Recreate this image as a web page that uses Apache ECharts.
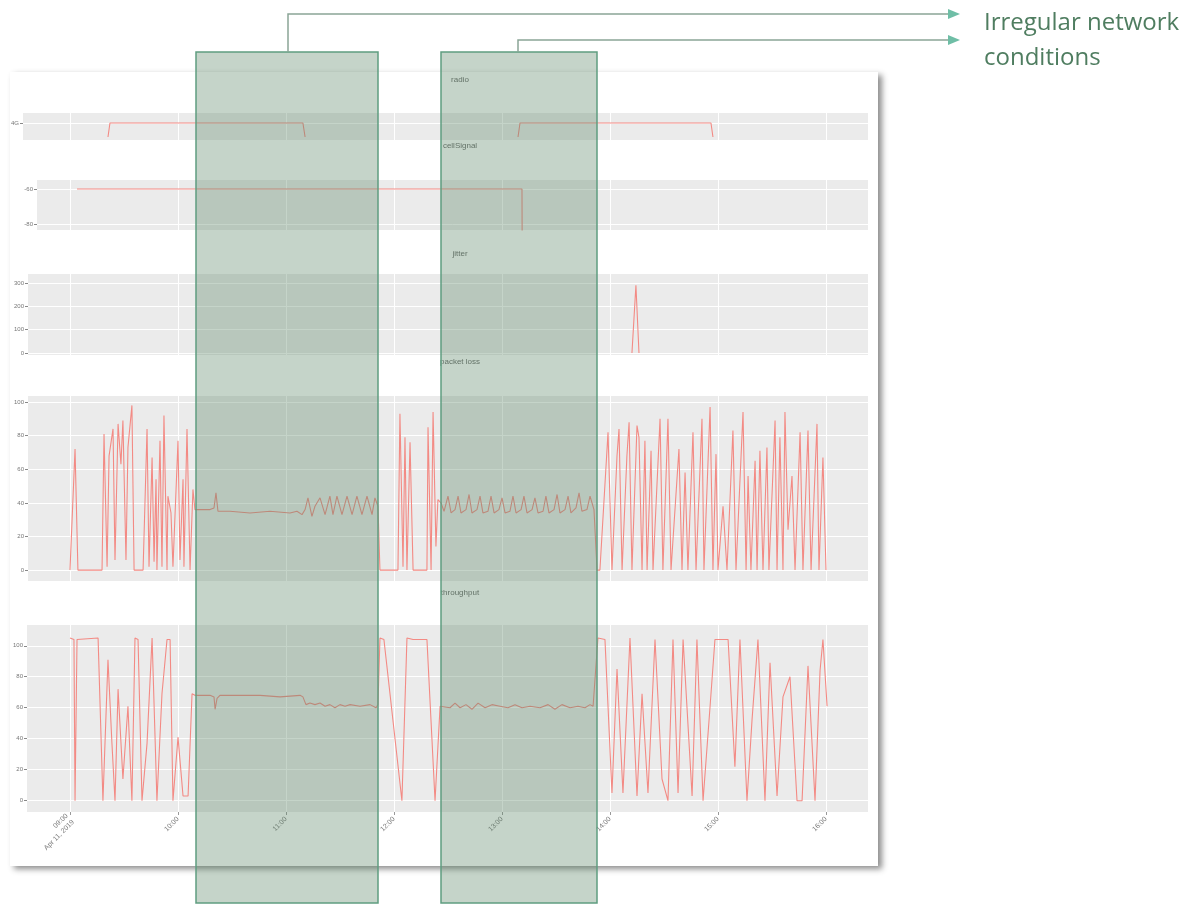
<!DOCTYPE html>
<html>
<head>
<meta charset="utf-8">
<script src="https://cdn.jsdelivr.net/npm/echarts@6/dist/echarts.min.js"></script>
<style>
  html, body { margin: 0; padding: 0; background: #ffffff; }
  #chart { width: 1192px; height: 905px; }
</style>
</head>
<body>
<div id="chart"></div>
<script>
// ---- data (time in minutes from the first sample) ----
const timeTicks = [0, 60, 120, 180, 240, 300, 360, 420];
const timeTickLabels = ['09:00\nApr 11, 2019', '10:00', '11:00', '12:00', '13:00', '14:00', '15:00', '16:00'];

// radio technology (1 = 4G), gaps where no record exists
const radioTime  = [21.1, 22.2, 129.4, 130.6, 131, 248.9, 250.0, 356.1, 357.2];
const radioValue = [0, 1, 1, 0, null, 0, 1, 1, 0];

// cell signal (dBm)
const cellTime  = [3.9, 251.1, 251.2];
const cellValue = [-60, -60, -90];

// jitter (ms)
const jitterTime  = [312.2, 314.4, 316.1];
const jitterValue = [0, 290, 0];

// packet loss (%)
const lossTime = [
  0, 2.8, 4.4, 17.8, 18.9, 20.6, 21.7, 23.9, 25.0, 26.7, 28.3, 29.4, 31.1, 32.2, 34.4, 35.6,
  40.6, 42.8, 43.9, 45.6, 46.7, 47.8, 48.3, 50.0, 51.1, 52.2, 53.9, 54.4, 56.1, 57.2, 60.0,
  61.1, 62.8, 63.3, 65.0, 66.7, 68.3, 69.4, 72.2, 77.8, 80.0, 81.1, 82.2, 88.9, 100.0, 111.1,
  122.2, 126.1, 128.9, 130.6, 132.2, 134.4, 136.1, 138.9, 141.7, 144.4, 146.1, 148.3, 151.1,
  153.9, 156.7, 159.4, 162.2, 165.0, 167.8, 169.4, 171.1, 172.2, 182.2, 183.3, 185.0, 186.1,
  187.2, 188.9, 190.6, 198.3, 198.9, 200.6, 201.7, 203.3, 204.4, 206.1, 207.8, 210.0, 211.7,
  213.9, 215.6, 217.2, 220.0, 221.7, 223.3, 226.1, 227.8, 229.4, 232.2, 233.9, 235.6, 238.3,
  240.0, 241.7, 244.4, 246.1, 247.8, 250.6, 252.2, 253.9, 256.7, 258.3, 260.0, 262.8, 264.4,
  266.1, 268.9, 270.6, 272.2, 275.0, 276.7, 278.3, 281.1, 282.8, 284.4, 287.2, 288.9, 291.1,
  292.8, 294.4, 298.9, 301.1, 303.9, 305.0, 306.7, 309.4, 310.6, 312.2, 315.0, 316.1, 317.8,
  319.4, 320.6, 322.8, 323.9, 327.8, 329.4, 332.2, 333.9, 338.3, 340.0, 341.7, 343.3, 346.1,
  347.8, 351.1, 352.2, 355.6, 357.2, 358.9, 360.0, 362.8, 365.0, 368.3, 370.0, 373.9, 375.6,
  376.7, 378.3, 380.6, 381.7, 383.3, 385.0, 387.2, 388.3, 391.7, 392.8, 394.4, 396.1, 397.2,
  398.9, 401.1, 402.8, 405.6, 407.2, 410.0, 411.7, 415.0, 416.1, 418.3, 420.0
];
const lossValue = [
  0, 72, 0, 0, 81, 2, 68, 84, 6, 87, 63, 89, 6, 73, 98, 0,
  0, 84, 2, 67, 5, 54, 0, 77, 2, 92, 0, 44, 34, 2, 77,
  6, 54, 2, 84, 0, 48, 36, 36, 36, 37, 46, 35, 35, 34, 35,
  34, 35, 33, 36, 43, 32, 38, 43, 33, 44, 33, 44, 33,
  44, 33, 44, 33, 44, 33, 43, 38, 0, 0, 93, 2, 79,
  0, 76, 0, 0, 85, 0, 94, 14, 42, 40, 35, 44, 34,
  36, 44, 34, 36, 45, 34, 36, 44, 34, 35, 44, 34, 36,
  43, 34, 35, 44, 34, 36, 44, 34, 36, 43, 34, 35, 44,
  34, 36, 45, 34, 36, 44, 34, 37, 46, 35, 36, 44, 36,
  0, 0, 82, 0, 68, 84, 0, 68, 88, 0, 86, 79, 0,
  77, 0, 71, 0, 90, 0, 90, 0, 72, 0, 58, 0, 82,
  0, 90, 0, 97, 0, 69, 0, 38, 0, 83, 0, 94, 0,
  56, 0, 65, 0, 71, 0, 73, 0, 89, 0, 79, 0, 94,
  24, 56, 0, 82, 0, 83, 0, 87, 0, 67, 0
];

// throughput
const tputTime = [
  0, 2.2, 2.8, 3.9, 15.6, 18.3, 21.1, 23.3, 25.0, 26.7, 29.4, 32.2, 34.4, 36.1, 37.8, 40.0,
  42.8, 45.6, 48.3, 51.1, 53.9, 55.6, 57.2, 60.0, 62.8, 65.6, 67.8, 69.4, 72.2, 77.8, 80.0,
  80.6, 81.7, 83.3, 94.4, 105.6, 116.7, 127.8, 129.4, 131.1, 133.3, 136.1, 138.9, 141.7,
  144.4, 147.2, 150.0, 152.8, 155.6, 161.1, 166.7, 170.0, 171.1, 172.2, 174.4, 184.4, 187.2,
  190.6, 198.3, 202.8, 205.6, 206.1, 211.1, 213.9, 216.7, 220.0, 223.3, 226.7, 230.6, 234.4,
  238.9, 243.3, 247.2, 251.1, 255.6, 261.1, 265.6, 269.4, 273.3, 277.8, 282.2, 286.1, 288.9,
  290.6, 293.3, 297.2, 301.1, 303.9, 307.2, 311.1, 315.0, 317.8, 321.1, 325.0, 328.9, 332.2,
  335.0, 337.8, 340.6, 345.6, 348.3, 351.7, 355.6, 358.3, 362.2, 365.6, 369.4, 372.2, 376.1,
  378.9, 382.2, 386.1, 388.9, 392.8, 396.1, 400.0, 403.9, 406.7, 410.0, 413.9, 416.7, 418.3, 420.6
];
const tputValue = [
  105, 104, 0, 104, 105, 0, 91, 37, 0, 72, 14, 61, 0, 105, 104, 0,
  37, 105, 0, 69, 104, 104, 0, 41, 3, 3, 69, 68, 68, 68, 67,
  59, 66, 68, 68, 68, 67, 68, 67, 62, 63, 62, 63, 61,
  62, 60, 62, 61, 62, 61, 62, 60, 62, 105, 104, 0, 105,
  104, 104, 0, 61, 62, 60, 63, 60, 62, 59, 63, 60, 62,
  61, 60, 62, 60, 61, 60, 62, 59, 62, 60, 61, 60, 62,
  61, 105, 104, 5, 85, 5, 105, 3, 69, 5, 104, 14, 0,
  104, 5, 104, 3, 104, 0, 61, 104, 104, 104, 22, 104, 0,
  52, 104, 0, 89, 3, 67, 80, 0, 0, 87, 0, 84, 104, 61
];

// ---- layout ----
const TICK0_PX = 70;      // horizontal position of the first time tick
const PX_PER_MIN = 1.8;   // horizontal scale shared by all panels
const PLOT_RIGHT = 868;
const LINE_COLOR = '#f38a84';

const panels = [
  { title: 'radio', titleY: 81, left: 23, top: 113, height: 27, yMin: -0.214, yMax: 1.714,
    yTicks: [1], yFmt: () => '4G', time: radioTime, value: radioValue },
  { title: 'cellSignal', titleY: 147, left: 37, top: 180, height: 50, yMin: -83.4, yMax: -54.9,
    yTicks: [-80, -60], yFmt: v => String(v), time: cellTime, value: cellValue },
  { title: 'jitter', titleY: 255, left: 28, top: 274, height: 81, yMin: -8.5, yMax: 338,
    yTicks: [0, 100, 200, 300], yFmt: v => String(v), time: jitterTime, value: jitterValue },
  { title: 'packet loss', titleY: 363, left: 28, top: 396, height: 185, yMin: -6.5, yMax: 103.6,
    yTicks: [0, 20, 40, 60, 80, 100], yFmt: v => String(v), time: lossTime, value: lossValue },
  { title: 'throughput', titleY: 594, left: 27, top: 625, height: 187, yMin: -7.3, yMax: 113.4,
    yTicks: [0, 20, 40, 60, 80, 100], yFmt: v => String(v), time: tputTime, value: tputValue }
];

const grids = [], xAxes = [], yAxes = [], series = [], titles = [];
panels.forEach((p, i) => {
  const last = i === panels.length - 1;
  grids.push({
    left: p.left, top: p.top, width: PLOT_RIGHT - p.left, height: p.height,
    show: true, backgroundColor: '#ebebeb', borderWidth: 0, containLabel: false
  });
  xAxes.push({
    type: 'value', gridIndex: i, position: 'bottom',
    min: (p.left - TICK0_PX) / PX_PER_MIN,
    max: (PLOT_RIGHT - TICK0_PX) / PX_PER_MIN,
    axisLine: { show: false, onZero: false },
    axisTick: { show: last, customValues: timeTicks, length: 3, lineStyle: { color: '#999' } },
    axisLabel: {
      show: last, customValues: timeTicks, rotate: 45, fontSize: 7, color: '#777',
      fontFamily: 'Liberation Sans', lineHeight: 9, margin: 6,
      formatter: v => timeTickLabels[timeTicks.indexOf(v)] || ''
    },
    splitLine: { show: true, lineStyle: { color: '#ffffff', width: 1 } }
  });
  yAxes.push({
    type: 'value', gridIndex: i, position: 'left', min: p.yMin, max: p.yMax,
    axisLine: { show: false, onZero: false },
    axisTick: { show: true, customValues: p.yTicks, length: 3, lineStyle: { color: '#888' } },
    axisLabel: { customValues: p.yTicks, fontSize: 6, color: '#777', margin: 4,
                 fontFamily: 'Liberation Sans', formatter: p.yFmt },
    splitLine: { show: true, lineStyle: { color: '#ffffff', width: 1 } }
  });
  series.push({
    type: 'line', xAxisIndex: i, yAxisIndex: i, showSymbol: false, connectNulls: false,
    clip: true, animation: false,
    lineStyle: { color: LINE_COLOR, width: 1.1 },
    data: p.time.map((t, k) => [t, p.value[k]])
  });
  titles.push({
    type: 'text', z: 5, x: 460, y: p.titleY - 5,
    style: { text: p.title, fontSize: 8, fill: '#666', fontFamily: 'Liberation Sans', textAlign: 'center' }
  });
});

// highlighted periods and callout
const overlayFill = 'rgba(95,135,105,0.36)';
const overlayStroke = '#5f9d80';
const callColor = '#8ba596';
const headColor = '#6fbea6';

const graphics = [
  { type: 'rect', z: -1, shape: { x: 10, y: 72, width: 868, height: 794 },
    style: { fill: '#ffffff', shadowBlur: 6, shadowOffsetX: 4, shadowOffsetY: 3,
             shadowColor: 'rgba(0,0,0,0.45)' } },
  ...titles,
  { type: 'rect', z: 50, shape: { x: 196, y: 52, width: 182, height: 851 },
    style: { fill: overlayFill, stroke: overlayStroke, lineWidth: 1.5 } },
  { type: 'rect', z: 50, shape: { x: 441, y: 52, width: 156, height: 851 },
    style: { fill: overlayFill, stroke: overlayStroke, lineWidth: 1.5 } },
  { type: 'polyline', z: 51, shape: { points: [[288, 52], [288, 14], [950, 14]] },
    style: { stroke: callColor, lineWidth: 1.5, fill: null } },
  { type: 'polyline', z: 51, shape: { points: [[518, 52], [518, 40], [950, 40]] },
    style: { stroke: callColor, lineWidth: 1.5, fill: null } },
  { type: 'polygon', z: 52, shape: { points: [[948, 9], [960, 14], [948, 19]] },
    style: { fill: headColor } },
  { type: 'polygon', z: 52, shape: { points: [[948, 35], [960, 40], [948, 45]] },
    style: { fill: headColor } },
  { type: 'text', z: 52, x: 984, y: 11,
    style: { text: 'Irregular network', fontSize: 24, fill: '#4f7d60', fontFamily: 'Open Sans' } },
  { type: 'text', z: 52, x: 984, y: 46,
    style: { text: 'conditions', fontSize: 24, fill: '#4f7d60', fontFamily: 'Open Sans' } }
];

const chart = echarts.init(document.getElementById('chart'), null, { renderer: 'canvas' });
chart.setOption({
  animation: false,
  backgroundColor: '#ffffff',
  grid: grids,
  xAxis: xAxes,
  yAxis: yAxes,
  series: series,
  graphic: graphics
});
</script>
</body>
</html>
